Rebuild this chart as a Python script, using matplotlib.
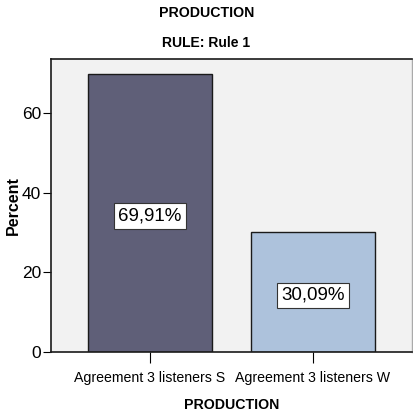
import matplotlib
matplotlib.use("Agg")
import matplotlib.pyplot as plt
from matplotlib import font_manager

categories = ["Agreement 3 listeners S", "Agreement 3 listeners W"]
percent = [69.91, 30.09]
value_labels = ["69,91%", "30,09%"]
y_ticks = [0, 20, 40, 60]

names = {f.name for f in font_manager.fontManager.ttflist}
narrow = "Liberation Sans Narrow" if "Liberation Sans Narrow" in names else "Liberation Sans"
plt.rcParams["font.family"] = [narrow, "DejaVu Sans"]

fig = plt.figure(figsize=(4.13, 4.17), dpi=100)
ax = fig.add_axes([51 / 413, 65 / 417, 361 / 413, 293 / 417])
ax.set_facecolor("#f2f2f2")

colors = ["#5f5f78", "#adc2dc"]
x = list(range(len(categories)))
ax.bar(x, percent, width=0.755, color=colors, edgecolor="#1a1a1a", linewidth=1.0, zorder=2)

for xi, v, lab in zip(x, percent, value_labels):
    ax.text(xi, v / 2 - 0.8, lab, ha="center", va="center", fontsize=13.5,
            bbox=dict(boxstyle="square,pad=0.22", facecolor="white", edgecolor="#333333", linewidth=0.8),
            zorder=3)

ax.set_xlim(-0.607, 1.607)
ax.set_ylim(0, 73.6)
ax.set_yticks(y_ticks)
ax.set_xticks(x)
ax.set_xticklabels(categories, fontsize=10.2)
ax.tick_params(axis="y", labelsize=12.5, length=6, width=0.8, pad=1)
ax.tick_params(axis="x", length=8, width=0.8, pad=6)

for side in ["left", "bottom", "top"]:
    ax.spines[side].set_color("#1a1a1a")
    ax.spines[side].set_linewidth(1.2)
ax.spines["right"].set_color("#aaaaaa")
ax.spines["right"].set_linewidth(1.0)

ax.set_ylabel("Percent", fontsize=11.5, fontweight="bold", labelpad=1)
ax.set_xlabel("PRODUCTION", fontsize=10.2, fontweight="bold", labelpad=9)

fig.text(0.5, 1 - 13 / 417, "PRODUCTION", ha="center", va="center", fontsize=10.2, fontweight="bold")
fig.text(0.5, 1 - 43 / 417, "RULE: Rule 1", ha="center", va="center", fontsize=10, fontweight="bold")

fig.savefig("out.png", dpi=100, facecolor="white")
